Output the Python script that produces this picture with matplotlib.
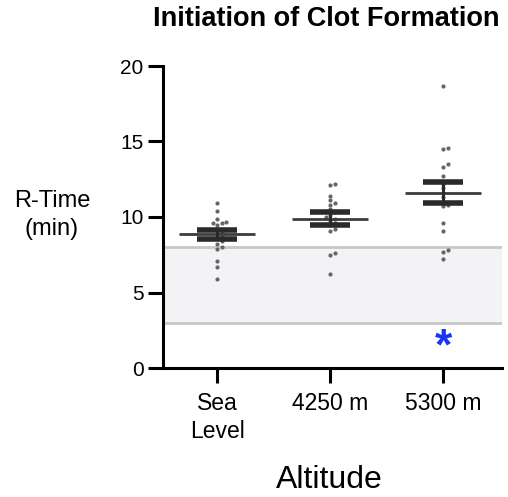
import numpy as np
import matplotlib
matplotlib.use("Agg")
import matplotlib.pyplot as plt

plt.rcParams['font.family'] = ['Liberation Sans', 'DejaVu Sans']

categories = ["Sea\nLevel", "4250 m", "5300 m"]
sea_level = [10.9, 10.4, 9.9, 9.7, 9.6, 9.6, 9.5, 9.2, 9.0, 8.9, 8.7, 8.6,
             8.4, 8.2, 8.0, 7.9, 7.1, 6.7, 5.9]
alt_4250 = [12.2, 12.1, 11.4, 11.1, 10.9, 10.8, 10.5, 10.3, 10.1, 10.0, 9.9,
            9.8, 9.6, 9.5, 9.2, 9.1, 7.6, 7.5, 6.2]
alt_5300 = [18.7, 14.6, 14.5, 13.5, 13.3, 12.7, 12.2, 11.9, 11.6, 11.3, 10.8,
            10.7, 9.6, 9.1, 7.8, 7.7, 7.2]
means = [8.85, 9.9, 11.6]
sems = [0.3, 0.4, 0.7]
ref_low, ref_high = 3, 8
sig_value = 2.0
yticks = [0, 5, 10, 15, 20]

W, H = 508, 497
fig = plt.figure(figsize=(W / 100, H / 100), dpi=100)
ax = fig.add_axes([163 / W, 1 - 368 / H, (502 - 163) / W, (368 - 66) / H])
ax.set_xlim(-0.478, 2.522)
ax.set_ylim(0, 20)

# reference band
ax.axhspan(ref_low, ref_high, facecolor='#f3f3f6', edgecolor='none', zorder=0)
ax.axhline(ref_low, color='#c8c8c8', lw=2, zorder=0.5)
ax.axhline(ref_high, color='#c8c8c8', lw=2, zorder=0.5)

# pixel scales
px_x = (502 - 163) / 3.0  # px per x unit
px_y = (368 - 66) / 20.0  # px per y unit


def swarm(vals, d=4.5):
    placed = []
    offs = np.zeros(len(vals))
    order = np.argsort(vals)
    for i in order:
        yp = vals[i] * px_y
        cands = [0]
        for k in range(1, 20):
            cands += [k * d, -k * d]
        for c in cands:
            ok = all((c - xo) ** 2 + (yp - yo) ** 2 >= d ** 2 * 0.95 for xo, yo in placed)
            if ok:
                offs[i] = c
                placed.append((c, yp))
                break
    return offs / px_x


groups = [sea_level, alt_4250, alt_5300]
for i, g in enumerate(groups):
    g = np.array(g)
    xo = swarm(g)
    ax.scatter(i + xo, g, s=9, color='#666666', zorder=2, linewidths=0)
    m, s = means[i], sems[i]
    ax.hlines(m, i - 0.34, i + 0.34, color='#3c3c3c', lw=2.0, zorder=3)
    ax.hlines([m - s, m + s], i - 0.18, i + 0.18, color='#2a2a2a', lw=4.0, zorder=3)
    ax.vlines(i, m - s, m + s, color='#2a2a2a', lw=2.2, zorder=3)

ax.text(2, sig_value, '*', color='#1a35f5', fontsize=32, fontweight='bold',
        ha='center', va='center', zorder=4,
        transform=ax.transData + matplotlib.transforms.ScaledTranslation(0, -7 / 72, fig.dpi_scale_trans))

for side in ['top', 'right']:
    ax.spines[side].set_visible(False)
ax.spines['left'].set_linewidth(2.2)
ax.spines['bottom'].set_linewidth(2.2)
ax.set_yticks(yticks)
ax.set_yticklabels([str(t) for t in yticks], fontsize=15)
ax.set_xticks([0, 1, 2])
ax.set_xticklabels(categories, fontsize=16.5, linespacing=1.3)
ax.tick_params(axis='both', length=11, width=2.2, color='black')
ax.tick_params(axis='y', pad=3)
ax.tick_params(axis='x', pad=6)

fig.text(326 / W, 1 - 19 / H, 'Initiation of Clot Formation', fontsize=19.5,
         fontweight='bold', ha='center', va='center')
fig.text(52 / W, 1 - 215 / H, 'R-Time\n(min)', fontsize=17, ha='center',
         va='center', linespacing=1.35)
fig.text(329 / W, 1 - 480 / H, 'Altitude', fontsize=23, ha='center', va='center')

fig.savefig('out.png', dpi=100)
